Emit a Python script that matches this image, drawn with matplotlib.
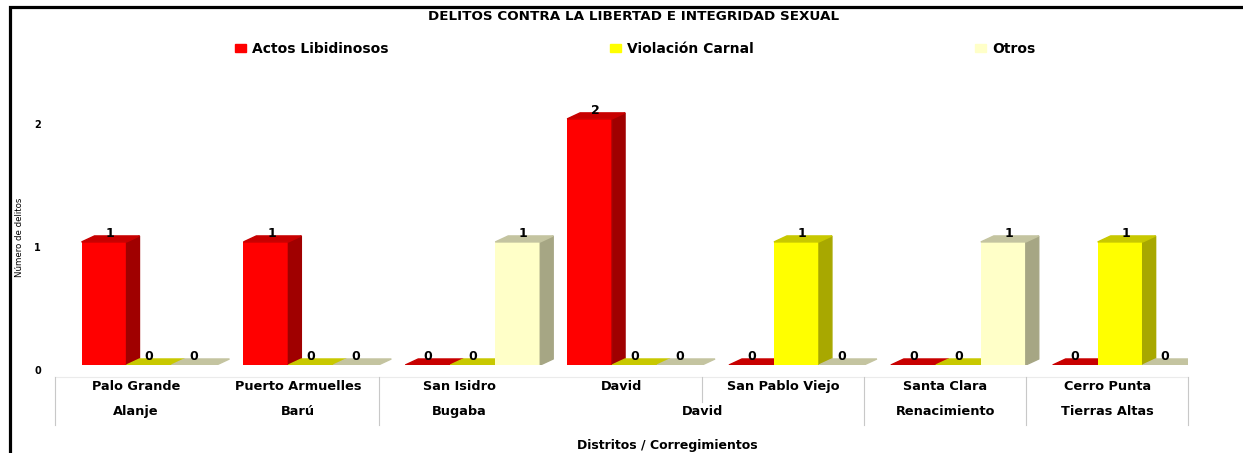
import matplotlib.pyplot as plt
import matplotlib.transforms as mtransforms
from matplotlib.patches import Polygon, Patch
from matplotlib.lines import Line2D
import numpy as np

corregimientos = ["Palo Grande", "Puerto Armuelles", "San Isidro", "David",
                  "San Pablo Viejo", "Santa Clara", "Cerro Punta"]
distritos = ["Alanje", "Barú", "Bugaba", "David", "Renacimiento", "Tierras Altas"]
distrito_pos = [0, 1, 2, 3.5, 5, 6]
separadores = [-0.5, 1.5, 4.5, 5.5, 6.5]
separador_corto = [3.5]

series = ["Actos Libidinosos", "Violación Carnal", "Otros"]
actos = [1, 1, 0, 2, 0, 0, 0]
violacion = [0, 0, 0, 0, 1, 0, 1]
otros = [0, 0, 1, 0, 0, 1, 0]

# front, side, top colours for the fake 3D look
colores = [("#FF0000", "#A00000", "#C80000"),
           ("#FFFF00", "#A8A800", "#C8C800"),
           ("#FFFFC8", "#A6A684", "#C4C4A0")]

W, H = 1243, 453
fig = plt.figure(figsize=(W / 100, H / 100), dpi=100)
ax = fig.add_axes([55 / W, 88 / H, 1133 / W, 283 / H])

x = np.arange(len(corregimientos))
ancho = 0.278
offs = [-0.197, 0.081, 0.359]
dx, dy = 0.08, 0.049

for k, vals in enumerate([actos, violacion, otros]):
    front, side, top = colores[k]
    xs = x + offs[k]
    ax.bar(xs, vals, width=ancho, color=front, zorder=2)
    for xc, v in zip(xs, vals):
        x0, x1 = xc - ancho / 2, xc + ancho / 2
        if v > 0:
            ax.add_patch(Polygon([(x1, 0), (x1 + dx, dy), (x1 + dx, v + dy), (x1, v)],
                                 closed=True, color=side, zorder=2))
        ax.add_patch(Polygon([(x0, v), (x1, v), (x1 + dx, v + dy), (x0 + dx, v + dy)],
                             closed=True, color=top, zorder=2))
        shift = 4 if v > 0 else 0
        ax.annotate(str(v), (xc, v), xytext=(shift, 6.0), textcoords="offset points",
                    ha="center", va="center", fontsize=9, fontweight="bold", zorder=5)

ax.set_xlim(-0.5, 6.5)
ax.set_ylim(0, 2.3)
for s in ax.spines.values():
    s.set_visible(False)
ax.set_xticks([])
ax.set_yticks([0, 1, 2])
ax.tick_params(axis="y", length=0, pad=10, labelsize=7)
off = mtransforms.ScaledTranslation(0, -0.05, fig.dpi_scale_trans)
for lab in ax.get_yticklabels():
    lab.set_fontweight("bold")
    lab.set_transform(lab.get_transform() + off)

# two-level category axis
tr = ax.get_xaxis_transform()
px = 1 / 283
ax.plot([-0.5, 6.5], [-12 * px, -12 * px], color="#EBEBEB", lw=0.8, transform=tr, clip_on=False)
for xs in separadores:
    ax.plot([xs, xs], [-12 * px, -60 * px], color="#C8C8C8", lw=0.8, transform=tr, clip_on=False)
for xs in separador_corto:
    ax.plot([xs, xs], [-12 * px, -37 * px], color="#C8C8C8", lw=0.8, transform=tr, clip_on=False)
for i, name in enumerate(corregimientos):
    ax.text(i, -25 * px, name, transform=tr, ha="center", va="baseline",
            fontsize=9.3, fontweight="bold")
for p, name in zip(distrito_pos, distritos):
    ax.text(p, -50 * px, name, transform=tr, ha="center", va="baseline",
            fontsize=9.3, fontweight="bold")

fig.text(634 / W, 1 - 17 / H, "DELITOS CONTRA LA LIBERTAD E INTEGRIDAD SEXUAL",
         ha="center", va="center", fontsize=9.7, fontweight="bold")
fig.text(667 / W, 1 - 445 / H, "Distritos / Corregimientos",
         ha="center", va="center", fontsize=9, fontweight="bold")
fig.text(20 / W, 1 - 237 / H, "Número de delitos", rotation=90, ha="center", va="center",
         fontsize=6.2)

handles = [Patch(color=c[0]) for c in colores]
fig.legend(handles, series, loc="center left", bbox_to_anchor=(235 / W, 1 - 49 / H),
           ncol=3, frameon=False, borderpad=0, borderaxespad=0,
           handlelength=0.8, handleheight=0.45, handletextpad=0.45,
           columnspacing=15.9, prop={"weight": "bold", "size": 10})

# black frame edge on the left and top
fig.add_artist(Line2D([10 / W, 10 / W, 1], [0, 1 - 7.3 / H, 1 - 7.3 / H], color="black",
                      lw=2.3, transform=fig.transFigure, solid_joinstyle="miter"))

fig.savefig("out.png", dpi=100)
